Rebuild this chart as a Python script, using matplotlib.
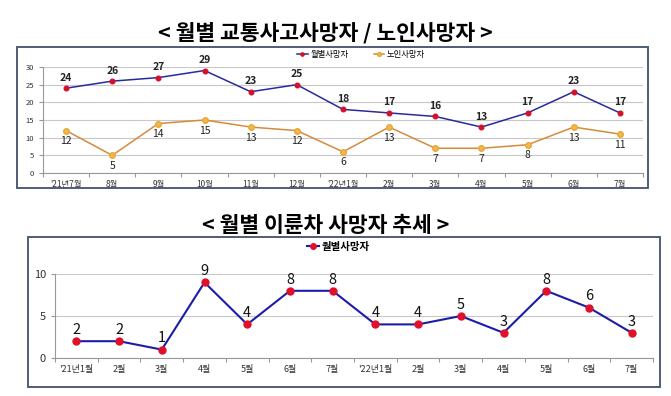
import matplotlib.pyplot as plt
import numpy as np
from matplotlib.patches import Rectangle

plt.rcParams['font.family'] = ['Noto Sans CJK KR', 'DejaVu Sans']

W, H = 671, 396

# top chart: monthly traffic deaths / elderly deaths
top_months = ["'21년7월", "8월", "9월", "10월", "11월", "12월", "'22년1월",
              "2월", "3월", "4월", "5월", "6월", "7월"]
top_total = [24, 26, 27, 29, 23, 25, 18, 17, 16, 13, 17, 23, 17]
top_elder = [12, 5, 14, 15, 13, 12, 6, 13, 7, 7, 8, 13, 11]

# bottom chart: monthly two-wheeler deaths
bike_months = ["'21년1월", "2월", "3월", "4월", "5월", "6월", "7월",
               "'22년1월", "2월", "3월", "4월", "5월", "6월", "7월"]
bike_deaths = [2, 2, 1, 9, 4, 8, 8, 4, 4, 5, 3, 8, 6, 3]

fig = plt.figure(figsize=(W / 100, H / 100), dpi=100)


def px_axes(left, top, right, bottom):
    return fig.add_axes([left / W, 1 - bottom / H, (right - left) / W, (bottom - top) / H])


def px_box(left, top, right, bottom):
    fig.patches.append(Rectangle((left / W, 1 - bottom / H), (right - left) / W,
                                 (bottom - top) / H, transform=fig.transFigure,
                                 fill=False, ec='#4f5d7a', lw=1.4))


def excel_axes(ax, labels, ymax, ystep, fs_x, fs_y):
    n = len(labels)
    x = np.arange(n)
    ax.set_xlim(-0.5, n - 0.5)
    ax.set_ylim(0, ymax)
    ax.set_xticks(np.arange(-0.5, n, 1.0))
    ax.set_xticklabels([])
    ax.set_xticks(x, minor=True)
    ax.set_xticklabels(labels, minor=True, fontsize=fs_x, color='#333333')
    ax.tick_params(axis='x', which='major', length=3, color='#999999')
    ax.tick_params(axis='x', which='minor', length=0, pad=5)
    ax.set_yticks(np.arange(0, ymax + 0.1, ystep))
    ax.tick_params(axis='y', length=3, color='#999999', labelsize=fs_y, labelcolor='#333333')
    ax.grid(axis='y', color='#c8c8c8', lw=0.8)
    ax.set_axisbelow(True)
    for s in ['top', 'right']:
        ax.spines[s].set_visible(False)
    for s in ['left', 'bottom']:
        ax.spines[s].set_color('#999999')
        ax.spines[s].set_linewidth(0.8)
    ax.patch.set_alpha(0)
    return x


# ---------- top chart ----------
fig.text(325 / W, 1 - 33 / H, '< 월별 교통사고사망자 / 노인사망자 >', ha='center', va='center',
         fontsize=15.5, fontweight='bold')
px_box(17, 47, 648, 188)
ax1 = px_axes(43, 67, 643, 173)
x1 = excel_axes(ax1, top_months, 30, 5, 6, 5.5)
ax1.plot(x1, top_total, color='#2a2a9c', lw=1.1, marker='o', ms=3.3,
         mfc='#d4102a', mec='#d4102a', label='월별사망자')
ax1.plot(x1, top_elder, color='#d68a3c', lw=1.1, marker='o', ms=4,
         mfc='#f2b84a', mec='#e8a83a', label='노인사망자')
for xi, v in zip(x1, top_total):
    ax1.annotate(str(v), (xi, v), xytext=(0, 4), textcoords='offset points',
                 ha='center', va='bottom', fontsize=7.5, fontweight='bold', color='#222222')
for xi, v in zip(x1, top_elder):
    ax1.annotate(str(v), (xi, v), xytext=(0, -4), textcoords='offset points',
                 ha='center', va='top', fontsize=7.5, color='#222222')
ax1.legend(loc='center', bbox_to_anchor=(361 / W, 1 - 54 / H), bbox_transform=fig.transFigure,
           ncol=2, frameon=False, fontsize=6, handlelength=1.3, columnspacing=3,
           handletextpad=0.3, markerscale=0.7)

# ---------- bottom chart ----------
fig.text(326 / W, 1 - 226 / H, '< 월별 이륜차 사망자 추세 >', ha='center', va='center',
         fontsize=15.5, fontweight='bold')
px_box(28, 237, 660, 387)
ax2 = px_axes(55, 274, 653, 358)
x2 = excel_axes(ax2, bike_months, 10, 5, 6.5, 8)
ax2.plot(x2, bike_deaths, color='#1c1ca8', lw=1.5, marker='o', ms=5,
         mfc='#e0102a', mec='#e0102a', label='월별사망자')
for xi, v in zip(x2, bike_deaths):
    ax2.annotate(str(v), (xi, v), xytext=(0, 3), textcoords='offset points',
                 ha='center', va='bottom', fontsize=10.5, color='#111111')
leg = ax2.legend(loc='center', bbox_to_anchor=(338 / W, 1 - 247 / H), bbox_transform=fig.transFigure,
                 frameon=False, fontsize=7.5, handlelength=1.2, handletextpad=0.2, markerscale=0.8)
for t in leg.get_texts():
    t.set_fontweight('bold')

fig.savefig('out.png', dpi=100)
